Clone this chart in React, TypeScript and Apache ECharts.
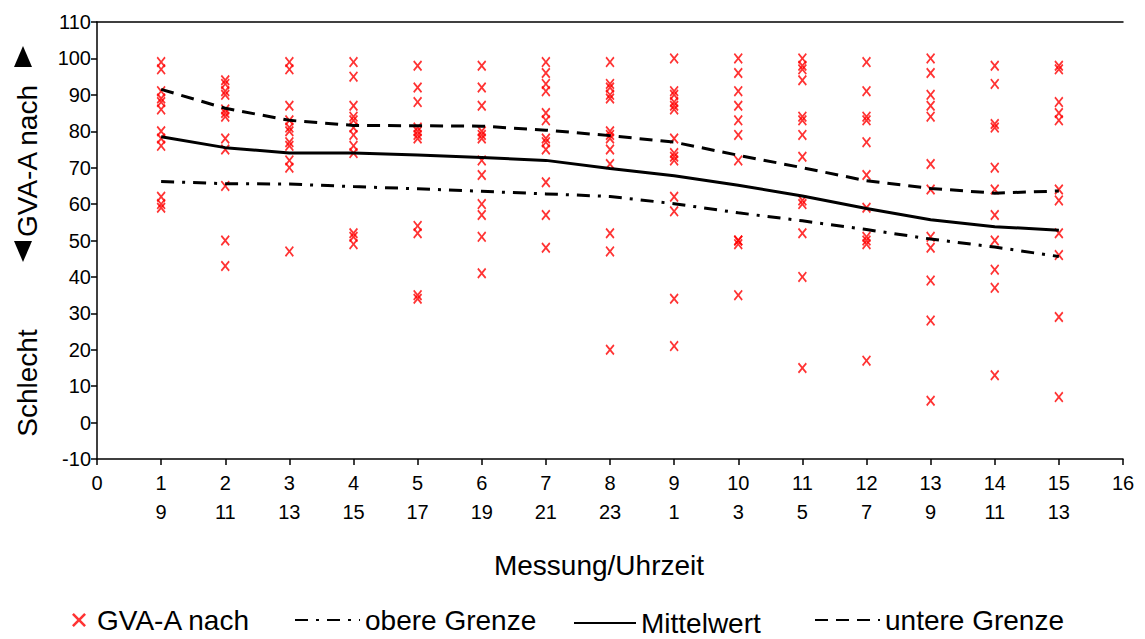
import React, { useEffect, useRef } from "react";
import * as echarts from "echarts";

// Measurement index (x) and the clock hour at which it was taken
const measurements = [1, 2, 3, 4, 5, 6, 7, 8, 9, 10, 11, 12, 13, 14, 15];
const clockHours = ["9", "11", "13", "15", "17", "19", "21", "23", "1", "3", "5", "7", "9", "11", "13"];

// Individual GVA-A readings per measurement
const reading1 = [99, 97, 91, 89, 88, 86, 80, 78, 76, 62, 60, 59];
const reading2 = [94, 93, 91, 90, 86, 85, 84, 78, 75, 65, 50, 43];
const reading3 = [99, 97, 87, 83, 81, 80, 77, 76, 72, 70, 47];
const reading4 = [99, 95, 87, 84, 83, 81, 79, 76, 74, 52, 51, 49];
const reading5 = [98, 92, 88, 81, 80, 79, 78, 54, 52, 35, 34];
const reading6 = [98, 92, 87, 80, 79, 78, 72, 68, 60, 57, 51, 41];
const reading7 = [99, 96, 93, 91, 85, 83, 78, 77, 75, 66, 57, 48];
const reading8 = [99, 93, 92, 90, 89, 80, 79, 78, 75, 71, 52, 47, 20];
const reading9 = [100, 91, 90, 88, 87, 86, 78, 74, 73, 72, 62, 58, 34, 21];
const reading10 = [100, 96, 91, 87, 83, 79, 72, 50, 50, 49, 35];
const reading11 = [100, 98, 97, 94, 84, 83, 79, 73, 61, 60, 52, 40, 15];
const reading12 = [99, 91, 84, 83, 77, 68, 59, 51, 50, 49, 17];
const reading13 = [100, 96, 90, 87, 84, 71, 64, 51, 48, 39, 28, 6];
const reading14 = [98, 93, 82, 81, 70, 64, 57, 50, 42, 37, 13];
const reading15 = [98, 97, 88, 85, 83, 64, 61, 52, 46, 29, 7];
const readings = [
  reading1, reading2, reading3, reading4, reading5, reading6, reading7, reading8,
  reading9, reading10, reading11, reading12, reading13, reading14, reading15,
];

// Summary curves
const mittelwert = [78.5, 75.5, 74, 74, 73.5, 72.8, 72, 69.8, 67.8, 65.2, 62.2, 58.8, 55.7, 53.8, 52.8];
const untereGrenze = [91.5, 86.3, 83, 81.6, 81.5, 81.4, 80.3, 78.8, 77, 73.4, 70, 66.4, 64.3, 63, 63.6];
const obereGrenze = [66.2, 65.6, 65.5, 64.8, 64.2, 63.5, 62.8, 62.1, 60.1, 57.6, 55.4, 53, 50.4, 48.2, 45.6];

// Y axis range and tick step
const yMin = -10;
const yMax = 110;
const yStep = 10;

const FONT = "'Liberation Sans', Arial, Helvetica, sans-serif";
const CROSS =
  "path://M0,1.3L1.3,0L5,3.7L8.7,0L10,1.3L6.3,5L10,8.7L8.7,10L5,6.3L1.3,10L0,8.7L3.7,5Z";

export default function App() {
  const ref = useRef<HTMLDivElement>(null);

  useEffect(() => {
    document.body.style.margin = "0";
    if (!ref.current) return;
    const chart = echarts.init(ref.current, undefined, { renderer: "svg" });

    const scatterData: number[][] = [];
    readings.forEach((col, i) => col.forEach((v) => scatterData.push([measurements[i], v])));
    const toPairs = (arr: number[]) => arr.map((v, i) => [measurements[i], v]);

    const legendBase = {
      orient: "horizontal",
      itemHeight: 14,
      textStyle: { fontSize: 28, color: "#000", fontFamily: FONT },
      selectedMode: false,
    };
    // line samples only, no marker dot in the middle
    const lineLegendItem = (name: string) => ({
      name,
      itemStyle: { opacity: 0 },
    });

    chart.setOption({
      animation: false,
      backgroundColor: "#fff",
      grid: { left: 97, top: 22, width: 1026, height: 437, containLabel: false },
      xAxis: [
        {
          type: "value",
          min: 0,
          max: 16,
          interval: 1,
          position: "bottom",
          axisLine: { show: true, onZero: false, lineStyle: { color: "#000", width: 1.5 } },
          axisTick: { show: true, length: 6, lineStyle: { color: "#000", width: 1.5 } },
          splitLine: { show: false },
          axisLabel: {
            color: "#000",
            fontSize: 20,
            fontFamily: FONT,
            lineHeight: 29,
            margin: 9,
            formatter: (v: number) =>
              v >= 1 && v <= 15 ? `${v}\n${clockHours[v - 1]}` : `${v}`,
          },
        },
        {
          type: "value",
          min: 0,
          max: 16,
          position: "top",
          axisLine: { show: true, onZero: false, lineStyle: { color: "#000", width: 1.5 } },
          axisTick: { show: false },
          axisLabel: { show: false },
          splitLine: { show: false },
        },
      ],
      yAxis: {
        type: "value",
        min: yMin,
        max: yMax,
        interval: yStep,
        axisLine: { show: true, onZero: false, lineStyle: { color: "#000", width: 1.5 } },
        axisTick: { show: true, length: 6, lineStyle: { color: "#000", width: 1.5 } },
        splitLine: { show: false },
        axisLabel: { color: "#000", fontSize: 20, fontFamily: FONT, margin: 6 },
      },
      legend: [
        { ...legendBase, data: ["GVA-A nach"], left: 67, top: 601, itemWidth: 26, symbolKeepAspect: true, itemStyle: { color: "#ff0000" } },
        { ...legendBase, data: [lineLegendItem("obere Grenze")], left: 289, top: 601, itemWidth: 65 },
        { ...legendBase, data: [lineLegendItem("Mittelwert")], left: 568, top: 604, itemWidth: 62 },
        { ...legendBase, data: [lineLegendItem("untere Grenze")], left: 809, top: 601, itemWidth: 65 },
      ],
      graphic: [
        {
          type: "text",
          x: 599,
          y: 565,
          style: { text: "Messung/Uhrzeit", font: `28px ${FONT}`, fill: "#000", textAlign: "center", textVerticalAlign: "middle", align: "center", verticalAlign: "middle" },
        },
        {
          type: "text",
          x: 27,
          y: 383,
          rotation: Math.PI / 2,
          style: { text: "Schlecht", font: `28px ${FONT}`, fill: "#000", textAlign: "center", textVerticalAlign: "middle", align: "center", verticalAlign: "middle" },
        },
        {
          type: "text",
          x: 27,
          y: 161,
          rotation: Math.PI / 2,
          style: { text: "GVA-A nach", font: `28px ${FONT}`, fill: "#000", textAlign: "center", textVerticalAlign: "middle", align: "center", verticalAlign: "middle" },
        },
        {
          type: "polygon",
          shape: { points: [[14, 241], [32, 241], [23, 262]] },
          style: { fill: "#000" },
        },
        {
          type: "polygon",
          shape: { points: [[14, 67], [32, 67], [23, 46]] },
          style: { fill: "#000" },
        },
      ],
      series: [
        {
          name: "GVA-A nach",
          type: "scatter",
          symbol: CROSS,
          symbolSize: [9, 11],
          itemStyle: { color: "#ff0000" },
          data: scatterData,
          z: 2,
        },
        {
          name: "obere Grenze",
          type: "line",
          data: toPairs(obereGrenze),
          symbol: "none",
          lineStyle: { color: "#000", width: 3, type: [13, 8, 3, 8] },
          itemStyle: { color: "#000" },
          z: 3,
        },
        {
          name: "Mittelwert",
          type: "line",
          data: toPairs(mittelwert),
          symbol: "none",
          lineStyle: { color: "#000", width: 3, type: "solid" },
          itemStyle: { color: "#000" },
          z: 3,
        },
        {
          name: "untere Grenze",
          type: "line",
          data: toPairs(untereGrenze),
          symbol: "none",
          lineStyle: { color: "#000", width: 3, type: [13, 8] },
          itemStyle: { color: "#000" },
          z: 3,
        },
      ],
    });

    return () => chart.dispose();
  }, []);

  return <div ref={ref} style={{ width: 1145, height: 639 }} />;
}
